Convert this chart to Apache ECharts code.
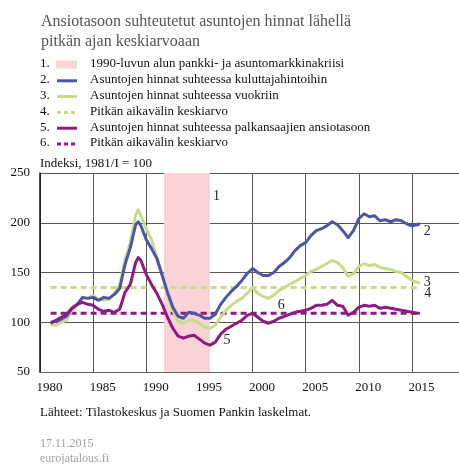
<!DOCTYPE html>
<html>
<head>
<meta charset="utf-8">
<script src="https://cdn.jsdelivr.net/npm/echarts@6/dist/echarts.min.js"></script>
<style>
  html, body { margin: 0; padding: 0; background: #fff; }
  #chart { width: 459px; height: 464px; }
</style>
</head>
<body>
<div id="chart"></div>
<script>
// vuosi (desimaaleina), sama kaikille kolmelle sarjalle
const years = [
  1981, 1981.5, 1982, 1982.5, 1983, 1983.5, 1984, 1984.5, 1985, 1985.5,
  1986, 1986.5, 1987, 1987.5, 1988, 1988.5, 1989, 1989.25, 1989.5, 1990,
  1990.5, 1991, 1991.5, 1992, 1992.5, 1993, 1993.5, 1994, 1994.5, 1995,
  1995.5, 1996, 1996.5, 1997, 1997.5, 1998, 1998.5, 1999, 1999.5, 2000,
  2000.5, 2001, 2001.5, 2002, 2002.5, 2003, 2003.5, 2004, 2004.5, 2005,
  2005.5, 2006, 2006.5, 2007, 2007.5, 2008, 2008.5, 2009, 2009.5, 2010,
  2010.5, 2011, 2011.5, 2012, 2012.5, 2013, 2013.5, 2014, 2014.5, 2015,
  2015.5, 2015.75
];
const kuluttajahinnat = [
  100, 101, 103, 106, 114, 118, 125, 124, 125, 122,
  125, 124, 128, 134, 158, 175, 198, 201, 197, 183,
  174, 164, 147, 130, 115, 106, 104, 110, 109, 107,
  104, 104, 108, 118, 125, 131, 136, 142, 149, 154,
  150, 147, 147, 150, 156, 160, 165, 172, 177, 180,
  187, 192, 194, 197, 201, 198, 192, 185, 192, 204,
  209, 206, 207, 202, 203, 201, 203, 202, 199, 197,
  198, 199
];
const vuokrat = [
  98, 97, 100, 102, 112, 116, 124, 124, 127, 123,
  122, 123, 129, 137, 163, 180, 208, 213, 207, 194,
  183, 165, 148, 128, 112, 101, 99, 102, 102, 99,
  95, 94, 97, 105, 112, 117, 121, 124, 129, 135,
  129, 126, 124, 127, 132, 135, 138, 141, 144, 147,
  151, 153, 156, 159, 162, 160, 155, 146, 149, 156,
  159, 157, 158, 155, 154, 153, 151, 150, 146, 142,
  140, 139
];
const ansiotaso = [
  99, 102, 105, 108, 114, 118, 120, 118, 117, 113,
  111, 112, 110, 113, 130, 138, 160, 165, 162, 148,
  138, 129, 118, 105, 94, 86, 84, 86, 87, 83,
  79, 77, 80, 88, 93, 96, 99, 102, 107, 109,
  105, 101, 99, 101, 104, 106, 108, 110, 111, 112,
  114, 117, 117, 118, 122, 117, 116, 107, 110, 115,
  117, 116, 117, 114, 115, 114, 113, 112, 111, 110,
  109, 109
];
// pitkän aikavälin keskiarvot
const avgYears = [1981, 2015.5];
const vuokraKeskiarvo = [135, 135];
const ansioKeskiarvo = [109, 109];
// 1990-luvun alun kriisi
const kriisi = [1991.67, 1996];

const yTicks = [50, 100, 150, 200, 250];

const legendRows = [
  { no: "1.", text: "1990-luvun alun pankki- ja asuntomarkkinakriisi", kind: "band", color: "#f9d3d5" },
  { no: "2.", text: "Asuntojen hinnat suhteessa kuluttajahintoihin", kind: "line", color: "#4c56a6" },
  { no: "3.", text: "Asuntojen hinnat suhteessa vuokriin", kind: "line", color: "#c8db8b" },
  { no: "4.", text: "Pitkän aikavälin keskiarvo", kind: "dash", color: "#c8db8b" },
  { no: "5.", text: "Asuntojen hinnat suhteessa palkansaajien ansiotasoon", kind: "line", color: "#8e1b80" },
  { no: "6.", text: "Pitkän aikavälin keskiarvo", kind: "dash", color: "#8e1b80" },
];

const zip = (xs, ys) => xs.map((x, i) => [x, ys[i]]);
const serif = "Liberation Serif";

let myChart = echarts.init(document.getElementById("chart"));

const graphics = [];
legendRows.forEach((row, i) => {
  const y = 64.5 + i * 15.8;
  graphics.push({ type: "text", left: 40, top: y - 7, style: { text: row.no, font: "13px " + serif, fill: "#111" } });
  graphics.push({ type: "text", left: 90, top: y - 7, style: { text: row.text, font: "13px " + serif, fill: "#111" } });
  if (row.kind === "band") {
    graphics.push({ type: "rect", shape: { x: 56, y: y - 4, width: 21, height: 8 }, style: { fill: row.color } });
  } else {
    graphics.push({
      type: "line",
      shape: { x1: 57, y1: y + 0.5, x2: 77, y2: y + 0.5 },
      style: { stroke: row.color, lineWidth: 3, lineDash: row.kind === "dash" ? [4, 3] : null },
    });
  }
});
graphics.push({ type: "text", left: 40, top: 157, style: { text: "Indeksi, 1981/I = 100", font: "13px " + serif, fill: "#111" } });
graphics.push({ type: "text", left: 40, top: 406, style: { text: "Lähteet: Tilastokeskus ja Suomen Pankin laskelmat.", font: "13px " + serif, fill: "#111" } });
graphics.push({ type: "text", left: 40, top: 438, style: { text: "17.11.2015", font: "12px " + serif, fill: "#a0a0a0" } });
graphics.push({ type: "text", left: 40, top: 453, style: { text: "eurojatalous.fi", font: "12px " + serif, fill: "#a0a0a0" } });

const numLabel = (txt) => ({
  show: true,
  formatter: txt,
  color: "#222",
  fontFamily: serif,
  fontSize: 14,
});

myChart.setOption({
  animation: false,
  title: {
    text: "Ansiotasoon suhteutetut asuntojen hinnat lähellä\npitkän ajan keskiarvoaan",
    left: 36,
    top: 7,
    textStyle: { fontFamily: serif, fontWeight: "normal", fontSize: 16, color: "#555", lineHeight: 20 },
  },
  graphic: graphics,
  grid: { left: 40, width: 425, top: 173, bottom: 92, containLabel: false, outerBoundsMode: "none" },
  xAxis: {
    type: "value",
    min: 1980,
    max: 2020,
    interval: 5,
    axisLine: { show: true, onZero: false, lineStyle: { color: "#666", width: 1 } },
    axisTick: { show: false },
    axisLabel: {
      margin: 9,
      padding: [0, 0, 0, 19],
      fontFamily: serif,
      fontSize: 13,
      color: "#111",
      formatter: (v) => (v > 2015 ? "" : String(v)),
    },
    splitLine: { show: true, lineStyle: { color: "#555", width: 1 } },
  },
  yAxis: {
    type: "value",
    min: yTicks[0],
    max: yTicks[yTicks.length - 1],
    interval: 50,
    axisLine: { show: true, lineStyle: { color: "#111", width: 1.5 } },
    axisTick: { show: false },
    axisLabel: { margin: 10, fontFamily: serif, fontSize: 13, color: "#111" },
    splitLine: { show: true, lineStyle: { color: "#555", width: 1 } },
  },
  series: [
    {
      name: "kriisi",
      type: "line",
      data: [],
      markArea: {
        silent: true,
        itemStyle: { color: "#f9d3d5" },
        label: { show: false },
        data: [[{ xAxis: kriisi[0] }, { xAxis: kriisi[1] }]],
      },
      markPoint: {
        symbol: "circle",
        symbolSize: 0,
        label: { show: true, color: "#222", fontFamily: serif, fontSize: 14, formatter: (p) => p.name },
        data: [{ name: "1", coord: [1996.6, 227] }],
      },
    },
    {
      name: "Pitkän aikavälin keskiarvo (vuokrat)",
      type: "line",
      data: zip(avgYears, vuokraKeskiarvo),
      symbol: "none",
      lineStyle: { color: "#c8db8b", width: 3, type: [6, 4] },
      endLabel: { ...numLabel("4"), offset: [-1, 6] },
    },
    {
      name: "Pitkän aikavälin keskiarvo (ansiot)",
      type: "line",
      data: zip(avgYears, ansioKeskiarvo),
      symbol: "none",
      lineStyle: { color: "#8e1b80", width: 3, type: [6, 4] },
    },
    {
      name: "Asuntojen hinnat suhteessa vuokriin",
      type: "line",
      data: zip(years, vuokrat),
      symbol: "none",
      lineStyle: { color: "#c8db8b", width: 3, join: "round" },
      endLabel: { ...numLabel("3"), offset: [-4, -1] },
    },
    {
      name: "Asuntojen hinnat suhteessa kuluttajahintoihin",
      type: "line",
      data: zip(years, kuluttajahinnat),
      symbol: "none",
      lineStyle: { color: "#4c56a6", width: 3, join: "round" },
      endLabel: { ...numLabel("2"), offset: [-4, 8] },
    },
    {
      name: "Asuntojen hinnat suhteessa palkansaajien ansiotasoon",
      type: "line",
      data: zip(years, ansiotaso),
      symbol: "none",
      lineStyle: { color: "#8e1b80", width: 3, join: "round" },
      markPoint: {
        symbol: "circle",
        symbolSize: 0,
        label: { show: true, color: "#222", fontFamily: serif, fontSize: 14, formatter: (p) => p.name },
        data: [
          { name: "5", coord: [1997.6, 82] },
          { name: "6", coord: [2002.7, 117] },
        ],
      },
    },
  ],
});
</script>
</body>
</html>
